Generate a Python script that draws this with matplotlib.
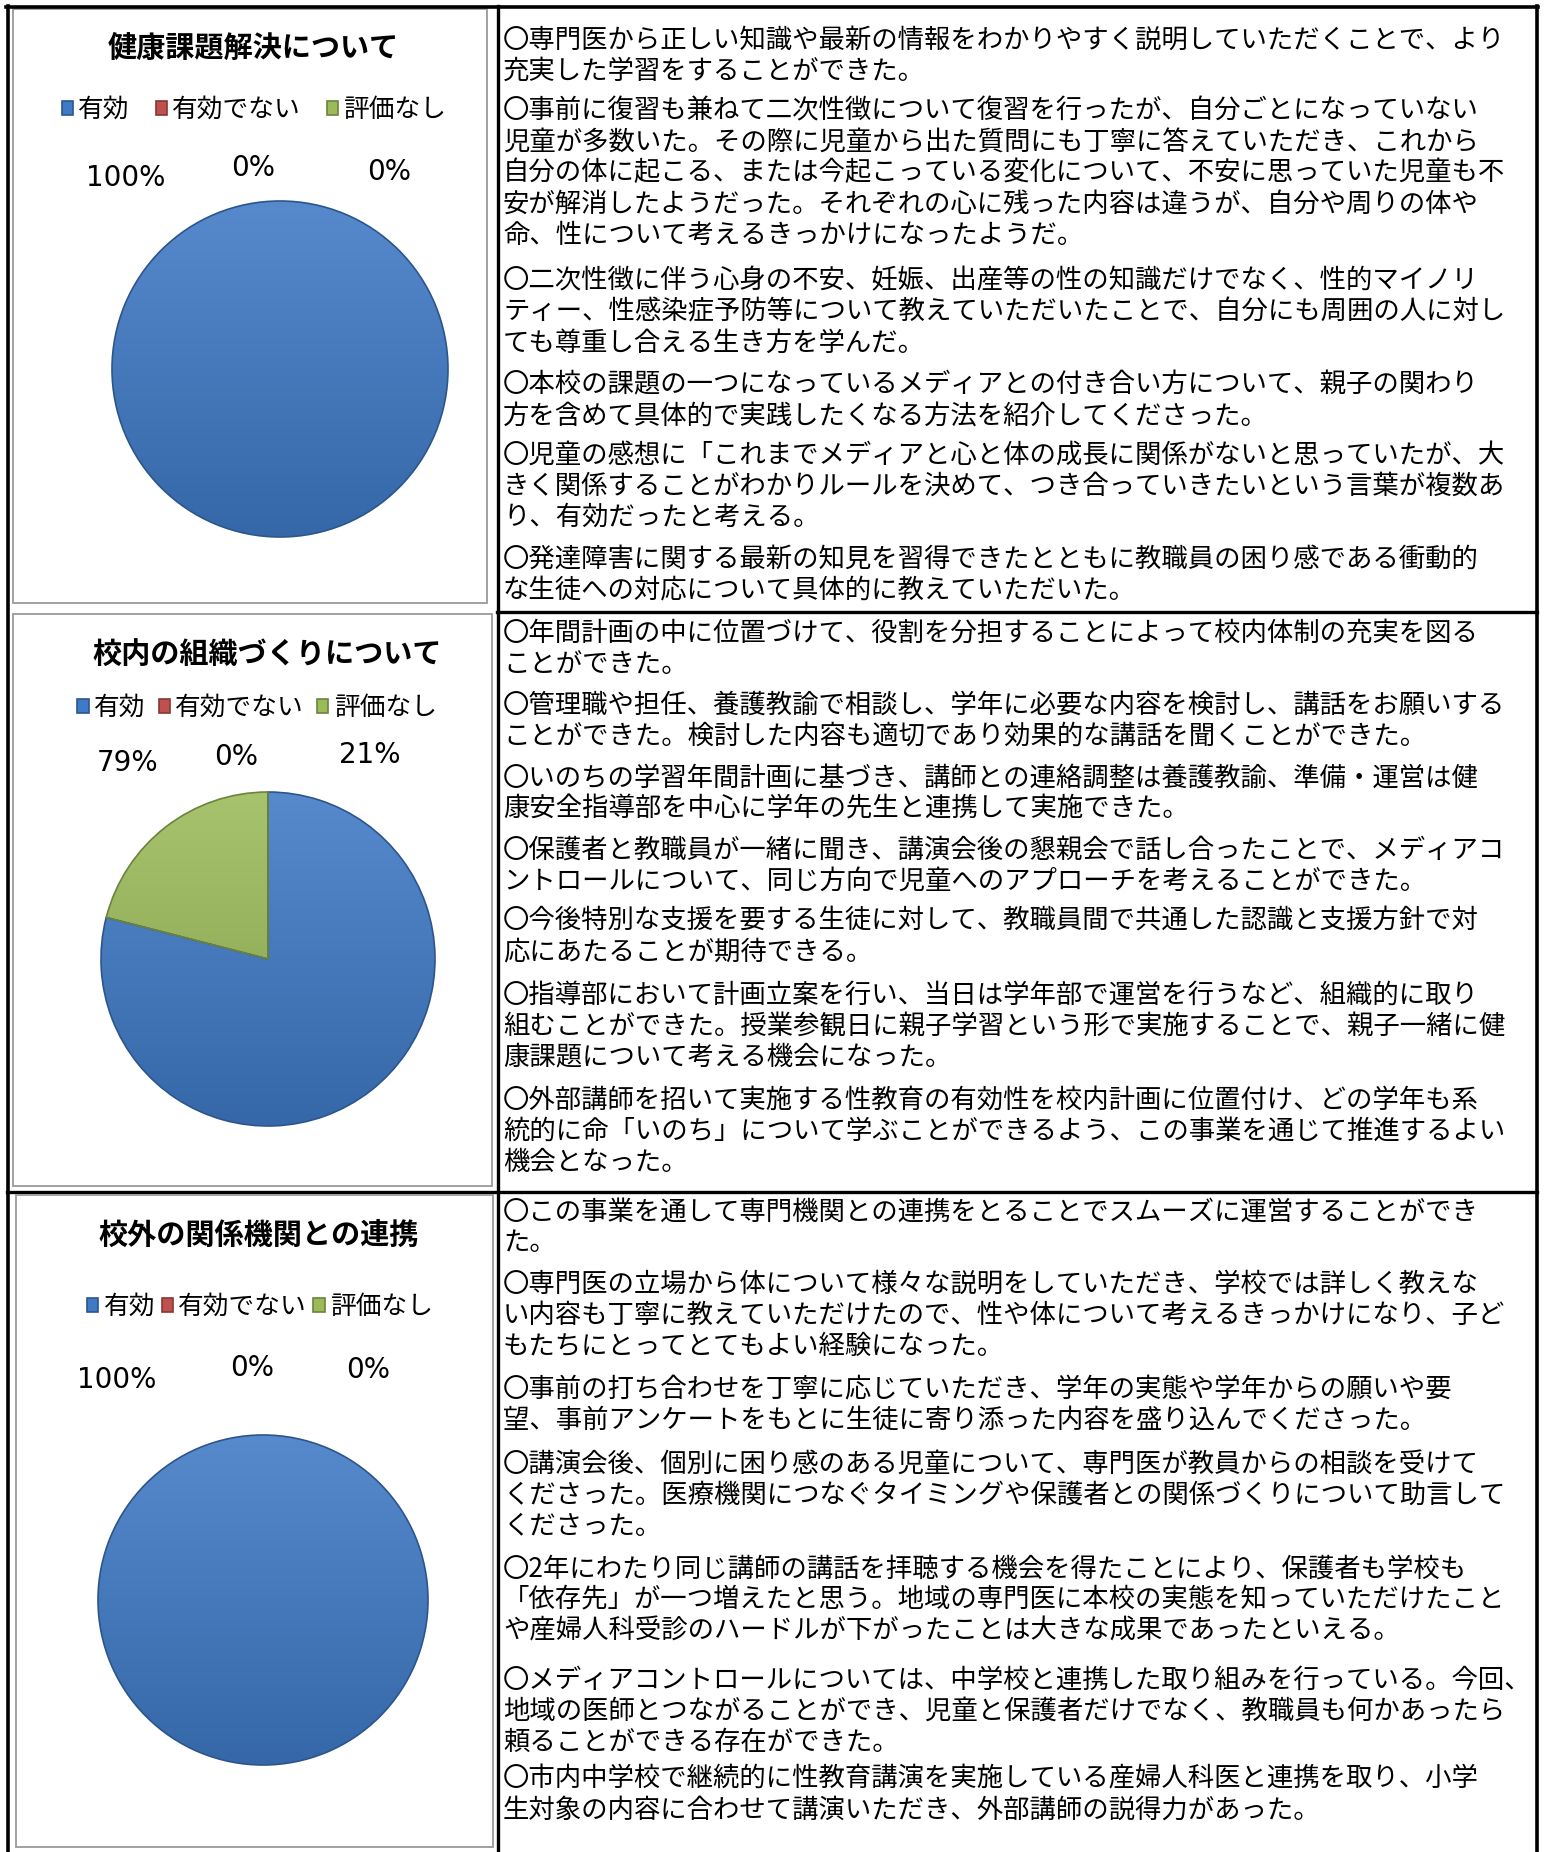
import numpy as np
import matplotlib
matplotlib.use('Agg')
from matplotlib import pyplot as plt
from matplotlib import colors as mcolors
from matplotlib.patches import Rectangle

plt.rcParams['font.family'] = ['Noto Sans CJK JP', 'DejaVu Sans']

# ---- data ----
categories = ['有効', '有効でない', '評価なし']
pie_colors = ['#3F7AC6', '#C0504D', '#9BBB59']

titles = ['健康課題解決について', '校内の組織づくりについて', '校外の関係機関との連携']
vals_1 = [100, 0, 0]
vals_2 = [79, 0, 21]
vals_3 = [100, 0, 0]

comments_1 = [
    ['〇専門医から正しい知識や最新の情報をわかりやすく説明していただくことで、より',
     '充実した学習をすることができた。'],
    ['〇事前に復習も兼ねて二次性徴について復習を行ったが、自分ごとになっていない',
     '児童が多数いた。その際に児童から出た質問にも丁寧に答えていただき、これから',
     '自分の体に起こる、または今起こっている変化について、不安に思っていた児童も不',
     '安が解消したようだった。それぞれの心に残った内容は違うが、自分や周りの体や',
     '命、性について考えるきっかけになったようだ。'],
    ['〇二次性徴に伴う心身の不安、妊娠、出産等の性の知識だけでなく、性的マイノリ',
     'ティー、性感染症予防等について教えていただいたことで、自分にも周囲の人に対し',
     'ても尊重し合える生き方を学んだ。'],
    ['〇本校の課題の一つになっているメディアとの付き合い方について、親子の関わり',
     '方を含めて具体的で実践したくなる方法を紹介してくださった。'],
    ['〇児童の感想に「これまでメディアと心と体の成長に関係がないと思っていたが、大',
     'きく関係することがわかりルールを決めて、つき合っていきたいという言葉が複数あ',
     'り、有効だったと考える。'],
    ['〇発達障害に関する最新の知見を習得できたとともに教職員の困り感である衝動的',
     'な生徒への対応について具体的に教えていただいた。'],
]
comments_2 = [
    ['〇年間計画の中に位置づけて、役割を分担することによって校内体制の充実を図る',
     'ことができた。'],
    ['〇管理職や担任、養護教諭で相談し、学年に必要な内容を検討し、講話をお願いする',
     'ことができた。検討した内容も適切であり効果的な講話を聞くことができた。'],
    ['〇いのちの学習年間計画に基づき、講師との連絡調整は養護教諭、準備・運営は健',
     '康安全指導部を中心に学年の先生と連携して実施できた。'],
    ['〇保護者と教職員が一緒に聞き、講演会後の懇親会で話し合ったことで、メディアコ',
     'ントロールについて、同じ方向で児童へのアプローチを考えることができた。'],
    ['〇今後特別な支援を要する生徒に対して、教職員間で共通した認識と支援方針で対',
     '応にあたることが期待できる。'],
    ['〇指導部において計画立案を行い、当日は学年部で運営を行うなど、組織的に取り',
     '組むことができた。授業参観日に親子学習という形で実施することで、親子一緒に健',
     '康課題について考える機会になった。'],
    ['〇外部講師を招いて実施する性教育の有効性を校内計画に位置付け、どの学年も系',
     '統的に命「いのち」について学ぶことができるよう、この事業を通じて推進するよい',
     '機会となった。'],
]
comments_3 = [
    ['〇この事業を通して専門機関との連携をとることでスムーズに運営することができ',
     'た。'],
    ['〇専門医の立場から体について様々な説明をしていただき、学校では詳しく教えな',
     'い内容も丁寧に教えていただけたので、性や体について考えるきっかけになり、子ど',
     'もたちにとってとてもよい経験になった。'],
    ['〇事前の打ち合わせを丁寧に応じていただき、学年の実態や学年からの願いや要',
     '望、事前アンケートをもとに生徒に寄り添った内容を盛り込んでくださった。'],
    ['〇講演会後、個別に困り感のある児童について、専門医が教員からの相談を受けて',
     'くださった。医療機関につなぐタイミングや保護者との関係づくりについて助言して',
     'くださった。'],
    ['〇2年にわたり同じ講師の講話を拝聴する機会を得たことにより、保護者も学校も',
     '「依存先」が一つ増えたと思う。地域の専門医に本校の実態を知っていただけたこと',
     'や産婦人科受診のハードルが下がったことは大きな成果であったといえる。'],
    ['〇メディアコントロールについては、中学校と連携した取り組みを行っている。今回、',
     '地域の医師とつながることができ、児童と保護者だけでなく、教職員も何かあったら',
     '頼ることができる存在ができた。'],
    ['〇市内中学校で継続的に性教育講演を実施している産婦人科医と連携を取り、小学',
     '生対象の内容に合わせて講演いただき、外部講師の説得力があった。'],
]

# ---- layout (pixels) ----
W, H = 1545, 1852
fig = plt.figure(figsize=(W / 100, H / 100), dpi=100)
bg = fig.add_axes([0, 0, 1, 1])
bg.set_xlim(0, W)
bg.set_ylim(H, 0)
bg.axis('off')

# table lines
bg.plot([497, 1537], [612, 612], color='black', lw=2.4, zorder=1)
bg.plot([7, 1537], [1192, 1192], color='black', lw=2.4, zorder=1)

frames = [(13, 9, 487, 603), (13, 614, 492, 1186), (16, 1195, 493, 1847)]
for x0, y0, x1, y1 in frames:
    bg.add_patch(Rectangle((x0, y0), x1 - x0, y1 - y0, facecolor='white',
                           edgecolor='#9a9a9a', lw=1.3, zorder=2))

bg.plot([7.5, 7.5], [6, H], color='black', lw=2.6, zorder=3)
bg.plot([1536.5, 1536.5], [6, H], color='black', lw=2.6, zorder=3)
bg.plot([6, 1538], [6.5, 6.5], color='black', lw=2.6, zorder=3)
bg.plot([497.5, 497.5], [6, H], color='black', lw=2.4, zorder=3)


def shade(ax, wedge, color):
    c = np.array(mcolors.to_rgb(color))
    top = c + (1 - c) * 0.12
    bot = c * 0.85
    t = np.linspace(0, 1, 256)[:, None, None]
    img = top[None, None, :] * (1 - t) + bot[None, None, :] * t
    im = ax.imshow(img, extent=(-1, 1, -1, 1), origin='upper', aspect='auto', zorder=1)
    im.set_clip_path(wedge)


charts = [
    dict(vals=vals_1, comments=comments_1, pie=(280, 369, 168), title=(253, 48),
         legend=(254, 110), colsp=1.0, labels=[(126, 178), (253, 168), (389, 172)],
         text_y=[40, 111, 281, 385, 455, 559]),
    dict(vals=vals_2, comments=comments_2, pie=(268, 959, 167), title=(267, 655),
         legend=(257, 708), colsp=0.5, labels=[(128, 763), (236, 757), (370, 755)],
         text_y=[633, 705, 778, 850, 921, 995, 1100]),
    dict(vals=vals_3, comments=comments_3, pie=(263, 1600, 165), title=(259, 1236),
         legend=(260, 1307), colsp=0.25, labels=[(117, 1380), (252, 1368), (368, 1370)],
         text_y=[1212, 1284, 1389, 1464, 1569, 1680, 1779]),
]

line_gap = 31
for i, ch in enumerate(charts):
    cx, cy, r = ch['pie']
    m = 1.03
    ax = fig.add_axes([(cx - r * m) / W, 1 - (cy + r * m) / H, 2 * r * m / W, 2 * r * m / H])
    wedges, _ = ax.pie(ch['vals'], colors=pie_colors, startangle=90, counterclock=False,
                       radius=1, wedgeprops=dict(linewidth=1.2))
    for w, col in zip(wedges, pie_colors):
        w.set_edgecolor(np.array(mcolors.to_rgb(col)) * 0.7)
    ax.legend(wedges, categories, loc='center', ncol=3, frameon=False,
              bbox_to_anchor=(ch['legend'][0] / W, 1 - ch['legend'][1] / H),
              bbox_transform=fig.transFigure, fontsize=18.5,
              handlelength=0.45, handleheight=0.45, handletextpad=0.2,
              columnspacing=ch['colsp'], borderpad=0)
    for w, v, col in zip(wedges, ch['vals'], pie_colors):
        w.set_facecolor('none')
        if v == 0:
            w.set_linewidth(0)
        else:
            w.set_zorder(2)
            shade(ax, w, col)
    ax.set_xlim(-m, m)
    ax.set_ylim(-m, m)
    ax.axis('off')

    bg.text(ch['title'][0], ch['title'][1], titles[i], fontsize=21, fontweight='bold',
            ha='center', va='center', zorder=4)
    for (lx, ly), v in zip(ch['labels'], ch['vals']):
        bg.text(lx, ly, f'{v}%', fontsize=20, family='DejaVu Sans',
                ha='center', va='center', zorder=4)

    for para, y0 in zip(ch['comments'], ch['text_y']):
        for k, line in enumerate(para):
            bg.text(503, y0 + k * line_gap, line, fontsize=19,
                    ha='left', va='center', zorder=4)

fig.savefig('out.png', dpi=100)
